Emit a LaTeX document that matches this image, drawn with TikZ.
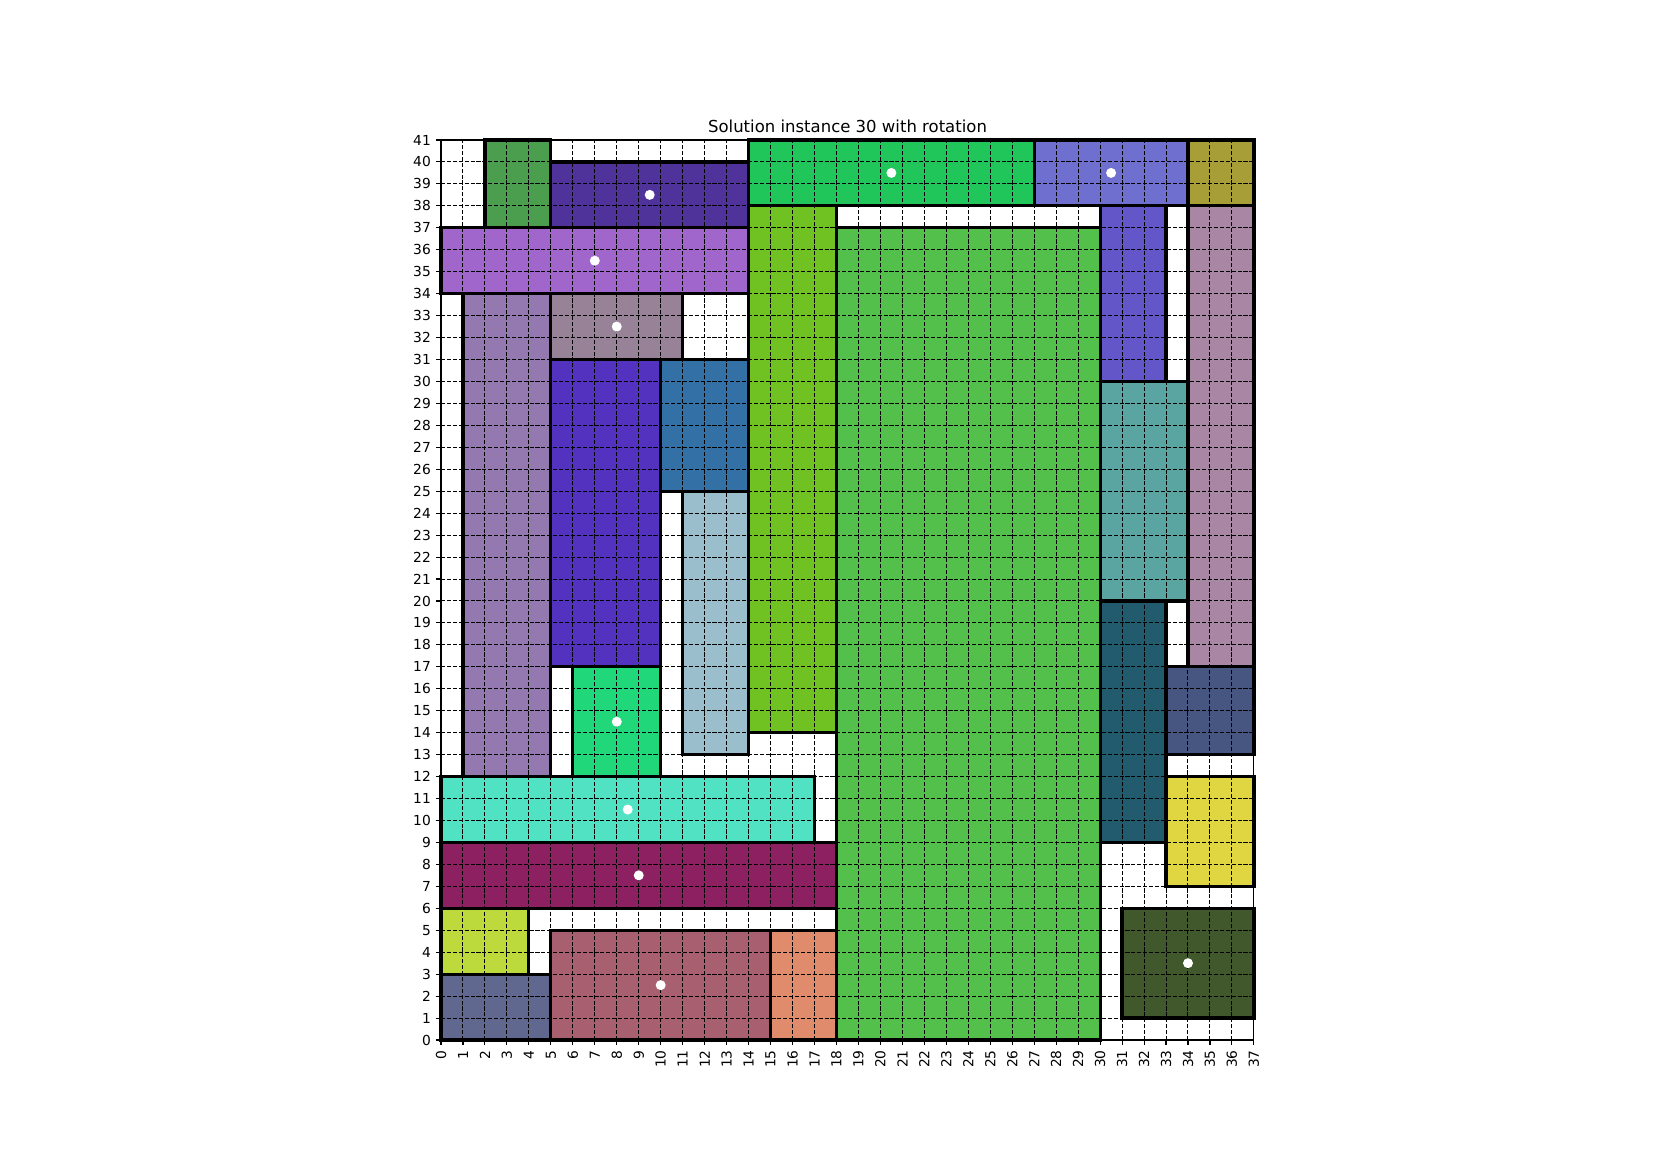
\documentclass[tikz,border=0pt]{standalone}
\usepackage{fontspec}
\setmainfont{DejaVu Sans}
\definecolor{k1}{RGB}{74,158,78}
\definecolor{k2}{RGB}{80,51,154}
\definecolor{k3}{RGB}{32,198,90}
\definecolor{k4}{RGB}{111,111,207}
\definecolor{k5}{RGB}{168,158,56}
\definecolor{k6}{RGB}{160,102,204}
\definecolor{k7}{RGB}{112,194,34}
\definecolor{k8}{RGB}{82,192,74}
\definecolor{k9}{RGB}{98,86,200}
\definecolor{k10}{RGB}{168,134,164}
\definecolor{k11}{RGB}{148,120,176}
\definecolor{k12}{RGB}{152,130,152}
\definecolor{k13}{RGB}{82,50,190}
\definecolor{k14}{RGB}{50,112,166}
\definecolor{k15}{RGB}{154,190,204}
\definecolor{k16}{RGB}{90,164,162}
\definecolor{k17}{RGB}{34,90,110}
\definecolor{k18}{RGB}{70,86,128}
\definecolor{k19}{RGB}{32,216,122}
\definecolor{k20}{RGB}{80,226,194}
\definecolor{k21}{RGB}{224,214,66}
\definecolor{k22}{RGB}{140,32,96}
\definecolor{k23}{RGB}{188,218,60}
\definecolor{k24}{RGB}{96,104,144}
\definecolor{k25}{RGB}{168,96,112}
\definecolor{k26}{RGB}{224,140,108}
\definecolor{k27}{RGB}{64,88,44}
\tikzset{
  gridline/.style={black, line width=0.5pt, dash pattern=on 2.05pt off 0.9pt},
  piece/.style={black, line width=1.6pt},
  spine/.style={black, line width=0.55pt},
  tick/.style={black, line width=0.55pt},
  ticklabel/.style={inner sep=0pt, font=\fontsize{6.9pt}{8pt}\selectfont},
  titlelabel/.style={inner sep=0pt, font=\fontsize{8.25pt}{10pt}\selectfont},
  centre/.style={circle, fill=white, inner sep=0pt, minimum size=5pt}
}
\begin{document}
\begin{tikzpicture}[x=0.5pt, y=-0.5pt]
\fill[white] (0,0) rectangle (1653,1169);
\path[use as bounding box] (0,0) rectangle (1653,1169);
\node[titlelabel, anchor=base] (title) at (847.5,132) {Solution instance 30 with rotation};
\begin{scope}[shift={(441,1040)}, x=10.985pt, y=10.976pt]
  % fills
  \foreach \a/\b/\c/\d/\col in {
    2/37/5/41/k1, 5/37/14/40/k2, 14/38/27/41/k3, 27/38/34/41/k4, 34/38/37/41/k5,
    0/34/14/37/k6, 14/14/18/38/k7, 18/0/30/37/k8, 30/30/33/38/k9, 34/17/37/38/k10,
    1/12/5/34/k11, 5/31/11/34/k12, 5/17/10/31/k13, 10/25/14/31/k14, 11/13/14/25/k15,
    30/20/34/30/k16, 30/9/33/20/k17, 33/13/37/17/k18, 6/12/10/17/k19, 0/9/17/12/k20,
    33/7/37/12/k21, 0/6/18/9/k22, 0/3/4/6/k23, 0/0/5/3/k24, 5/0/15/5/k25,
    15/0/18/5/k26, 31/1/37/6/k27}
  { \fill[\col] (\a,\b) rectangle (\c,\d); }
  % grid
  \foreach \i in {1,...,36} { \draw[gridline] (\i,0) -- (\i,41); }
  \foreach \j in {1,...,40} { \draw[gridline] (0,\j) -- (37,\j); }
  % borders
  \foreach \a/\b/\c/\d in {
    2/37/5/41, 5/37/14/40, 14/38/27/41, 27/38/34/41, 34/38/37/41,
    0/34/14/37, 14/14/18/38, 18/0/30/37, 30/30/33/38, 34/17/37/38,
    1/12/5/34, 5/31/11/34, 5/17/10/31, 10/25/14/31, 11/13/14/25,
    30/20/34/30, 30/9/33/20, 33/13/37/17, 6/12/10/17, 0/9/17/12,
    33/7/37/12, 0/6/18/9, 0/3/4/6, 0/0/5/3, 5/0/15/5,
    15/0/18/5, 31/1/37/6}
  { \draw[piece] (\a,\b) rectangle (\c,\d); }
  % rotation markers
  \foreach \px/\py [count=\n] in {9.5/38.5, 20.5/39.5, 30.5/39.5, 7/35.5, 8/32.5,
    8/14.5, 8.5/10.5, 9/7.5, 10/2.5, 34/3.5}
  { \node[centre] (dot\n) at (\px,\py) {}; }
  % spines
  \draw[spine] (0,0) rectangle (37,41);
  % ticks
  \foreach \i in {0,...,37} {
    \draw[tick] (\i,0) -- ++(0,-2.45pt);
    \node[ticklabel, anchor=east, rotate=90] (xt\i) at ([yshift=-5pt]\i,0) {\i};
  }
  \foreach \j in {0,...,41} {
    \draw[tick] (0,\j) -- ++(-2.45pt,0);
    \node[ticklabel, anchor=east] (yt\j) at ([xshift=-4.9pt]0,\j) {\j};
  }
\end{scope}
\end{tikzpicture}
\end{document}
